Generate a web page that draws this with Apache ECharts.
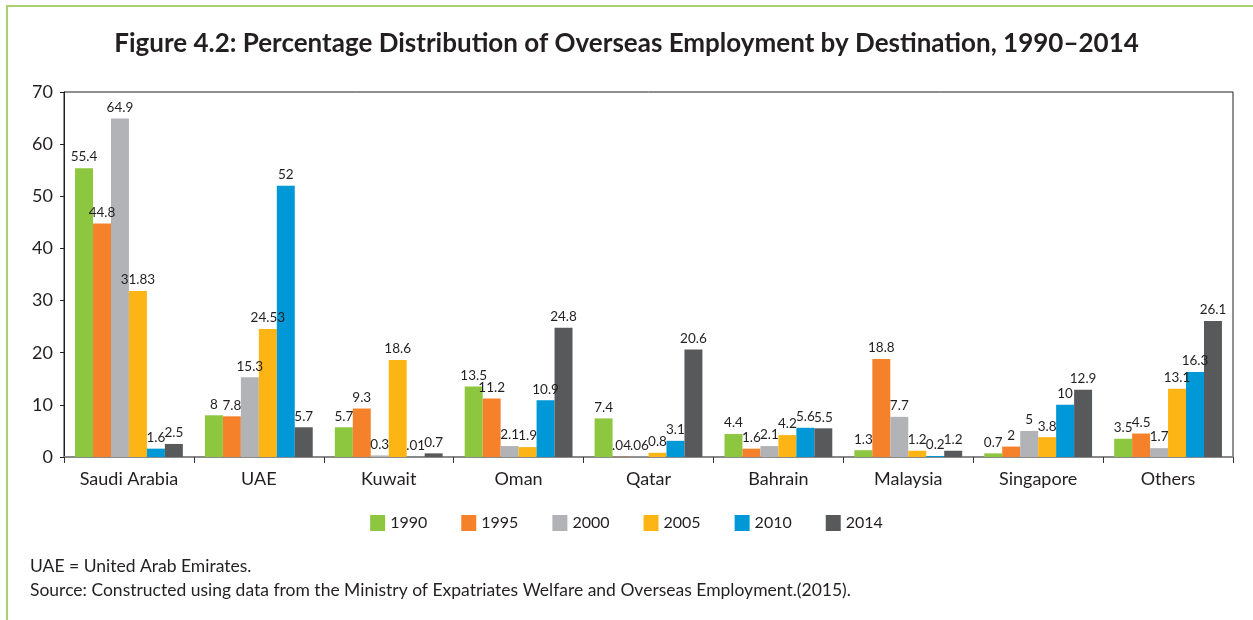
<!DOCTYPE html>
<html>
<head>
<meta charset="utf-8">
<script src="https://cdn.jsdelivr.net/npm/echarts@6/dist/echarts.min.js"></script>
<style>
html,body{margin:0;padding:0;background:#fff;}
#frame{position:absolute;left:6px;top:5px;right:0;bottom:0;border-top:2px solid #a9d26f;border-left:2px solid #a9d26f;}
#chart{position:absolute;left:0;top:0;width:1253px;height:620px;}
</style>
</head>
<body>
<div id="frame"></div>
<div id="chart"></div>
<script>
const categories = ['Saudi Arabia','UAE','Kuwait','Oman','Qatar','Bahrain','Malaysia','Singapore','Others'];
const years = ['1990','1995','2000','2005','2010','2014'];
const v1990 = [55.4, 8, 5.7, 13.5, 7.4, 4.4, 1.3, 0.7, 3.5];
const v1995 = [44.8, 7.8, 9.3, 11.2, 0.04, 1.6, 18.8, 2, 4.5];
const v2000 = [64.9, 15.3, 0.3, 2.1, 0.06, 2.1, 7.7, 5, 1.7];
const v2005 = [31.83, 24.53, 18.6, 1.9, 0.8, 4.2, 1.2, 3.8, 13.1];
const v2010 = [1.6, 52, 0.01, 10.9, 3.1, 5.6, 0.2, 10, 16.3];
const v2014 = [2.5, 5.7, 0.7, 24.8, 20.6, 5.5, 1.2, 12.9, 26.1];
const yTicks = [0, 10, 20, 30, 40, 50, 60, 70];

const seriesValues = [v1990, v1995, v2000, v2005, v2010, v2014];
const colors = ['#8dc63f', '#f5812a', '#b1b3b6', '#fdb515', '#0098d6', '#58595b'];
const FONT = 'Lato, "Open Sans", sans-serif';
const TXT = '#231f20';

const chart = echarts.init(document.getElementById('chart'), null, {renderer: 'canvas'});
const option = {
  animation: false,
  color: colors,
  title: {
    text: 'Figure 4.2: Percentage Distribution of Overseas Employment by Destination, 1990–2014',
    left: 'center',
    top: 26,
    textStyle: {fontFamily: FONT, fontWeight: 'bold', fontSize: 26, color: TXT}
  },
  legend: {
    data: years,
    top: 510,
    left: 'center',
    itemWidth: 15,
    itemHeight: 16,
    itemGap: 34,
    icon: 'rect',
    textStyle: {fontFamily: FONT, fontSize: 16, color: TXT}
  },
  grid: {
    left: 64, right: 20, top: 92, bottom: 163,
    show: true, borderColor: '#231f20', borderWidth: 1, backgroundColor: 'transparent'
  },
  xAxis: {
    type: 'category',
    data: categories,
    axisLine: {lineStyle: {color: '#8a8a8a', width: 2}},
    axisTick: {show: true, length: 6, inside: false, lineStyle: {color: '#333', width: 1}},
    axisLabel: {fontFamily: FONT, fontSize: 18, color: TXT, margin: 13}
  },
  yAxis: {
    type: 'value',
    min: yTicks[0], max: yTicks[yTicks.length - 1], interval: 10,
    splitLine: {show: false},
    axisLine: {show: true, lineStyle: {color: '#231f20', width: 1}},
    axisTick: {show: true, length: 4, lineStyle: {color: '#231f20'}},
    axisLabel: {fontFamily: FONT, fontSize: 18, color: TXT, margin: 11}
  },
  series: years.map((y, i) => ({
    name: y,
    type: 'bar',
    data: seriesValues[i],
    barGap: '0%',
    barCategoryGap: '17%',
    itemStyle: {color: colors[i]},
    label: {
      show: true,
      position: 'top',
      distance: 4,
      fontFamily: FONT,
      fontSize: 13.5,
      color: TXT,
      formatter: p => (p.value < 0.1 ? String(p.value).replace(/^0/, '') : String(p.value))
    }
  })),
  graphic: [
    {type: 'text', left: 30, top: 557, style: {text: 'UAE = United Arab Emirates.', font: '17.5px ' + FONT, fill: TXT}},
    {type: 'text', left: 30, top: 581, style: {text: 'Source: Constructed using data from the Ministry of Expatriates Welfare and Overseas Employment.(2015).', font: '17.5px ' + FONT, fill: TXT}}
  ]
};
chart.setOption(option);
</script>
</body>
</html>
